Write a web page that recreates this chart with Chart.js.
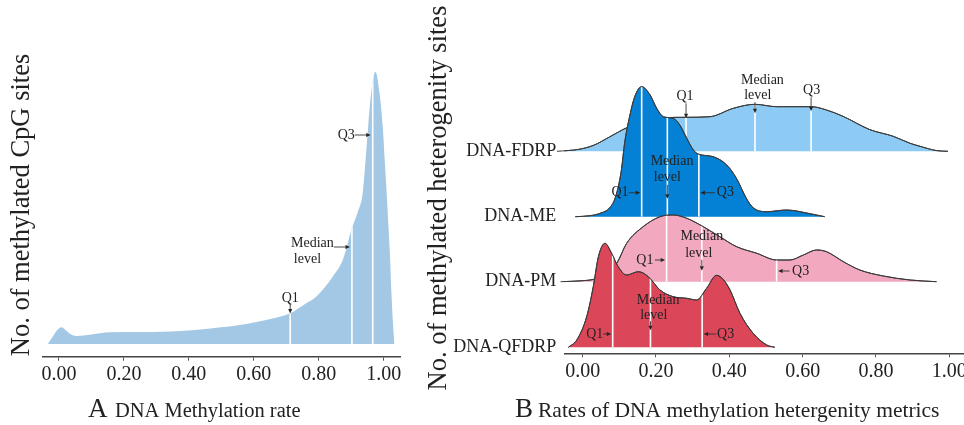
<!DOCTYPE html>
<html>
<head>
<meta charset="utf-8">
<script src="https://cdn.jsdelivr.net/npm/chart.js@4.4.0/dist/chart.umd.min.js"></script>
<style>
  html, body { margin: 0; padding: 0; background: #fff; overflow: hidden; }
  #wrapA { position: absolute; left: 0; top: 0; width: 420px; height: 425px; }
  #wrapB { position: absolute; left: 420px; top: 0; width: 560px; height: 425px; }
</style>
</head>
<body>
<div id="wrapA"><canvas id="chartA"></canvas></div>
<div id="wrapB"><canvas id="chartB"></canvas></div>
<script>
// ---- panel A: DNA methylation rate (density, arbitrary units)
const rateX = [-0.034, -0.022, -0.01, 0.0, 0.008, 0.02, 0.035, 0.054, 0.1, 0.156, 0.25, 0.32, 0.4, 0.473, 0.577, 0.648, 0.712, 0.761, 0.792, 0.843, 0.875, 0.902, 0.92, 0.935, 0.944, 0.952, 0.961, 0.9745, 0.987, 0.997, 1.003, 1.009, 1.0145, 1.0197, 1.0237, 1.029, 1.033]
const rateDensity = [0, 6, 12, 15.5, 16.7, 14, 10, 8, 9.5, 11.7, 12, 12.3, 13.5, 15.7, 20, 24.7, 30.7, 40.7, 47.3, 67.3, 85, 115.7, 132, 150.7, 184, 217.3, 250.7, 272.3, 250.7, 217.3, 184, 150.7, 117.3, 84, 50.7, 17.3, 0]
const rateQuartiles = [0.712, 0.902, 0.966]

// ---- panel B: heterogeneity metrics (ridgelines)
const metrics = ['DNA-FDRP', 'DNA-ME', 'DNA-PM', 'DNA-QFDRP']

const fdrpX = [-0.07, -0.01, 0.03, 0.074, 0.12, 0.17, 0.22, 0.282, 0.347, 0.411, 0.47, 0.529, 0.574, 0.624, 0.665, 0.71, 0.783, 0.847, 0.893, 0.92, 0.965, 0.996]
const fdrpDensity = [0, 2, 6, 14.5, 23.5, 30, 33.5, 34, 34.6, 43, 47, 44.6, 44.6, 44.6, 41.3, 35, 21.7, 15, 8, 5, 0.7, 0]
const fdrpQuartiles = [0.282, 0.47, 0.623]

const meX = [-0.02, 0.02, 0.047, 0.074, 0.09, 0.105, 0.115, 0.128, 0.142, 0.161, 0.184, 0.202, 0.22, 0.247, 0.265, 0.284, 0.302, 0.315, 0.356, 0.393, 0.42, 0.447, 0.465, 0.502, 0.556, 0.62, 0.66]
const meDensity = [0, 1, 3.3, 9, 20, 45, 75, 100, 120, 130, 121.7, 108.4, 100, 98.4, 91.7, 78.4, 66.7, 62.7, 60, 51.7, 38, 18, 9, 5, 6.7, 3, 0]
const meQuartiles = [0.161, 0.231, 0.317]

const pmX = [-0.06, 0.0, 0.03, 0.06, 0.093, 0.12, 0.165, 0.211, 0.247, 0.284, 0.329, 0.374, 0.42, 0.475, 0.529, 0.565, 0.602, 0.638, 0.665, 0.711, 0.756, 0.82, 0.893, 0.965]
const pmDensity = [0, 1, 2.4, 7, 18.4, 38.4, 55, 65, 66.7, 63.4, 55, 45, 35, 28.4, 21.7, 21.7, 26.7, 31.7, 30, 20, 11.7, 5.7, 1.7, 0]
const pmQuartiles = [0.229, 0.325, 0.529]

const qfdrpX = [-0.039, -0.016, 0.011, 0.029, 0.043, 0.061, 0.079, 0.097, 0.12, 0.152, 0.179, 0.211, 0.247, 0.284, 0.311, 0.338, 0.365, 0.383, 0.402, 0.429, 0.465, 0.502, 0.524]
const qfdrpDensity = [0, 7.3, 30.6, 60.6, 90.6, 104, 94, 80.6, 72.3, 75.6, 70.6, 57.3, 50.6, 49, 47.3, 59, 72, 68, 57.3, 34, 14, 2.3, 0]
const qfdrpQuartiles = [0.082, 0.185, 0.326]

const tickValues = [0, 0.2, 0.4, 0.6, 0.8, 1.0]

// ---------------------------------------------------------------
const serif = "'Liberation Serif', 'Times New Roman', serif"
const ink = '#222'

function toPoints(xs, hs, base) {
  return xs.map((x, i) => ({ x: x, y: base + hs[i] }))
}

function arrow(ctx, x1, y1, x2, y2) {
  const a = Math.atan2(y2 - y1, x2 - x1), L = 4.5, W = 2
  const bx = x2 - L * Math.cos(a), by = y2 - L * Math.sin(a)
  ctx.beginPath(); ctx.moveTo(x1, y1); ctx.lineTo(bx, by); ctx.stroke()
  ctx.beginPath(); ctx.moveTo(x2, y2)
  ctx.lineTo(bx + W * Math.sin(a), by - W * Math.cos(a))
  ctx.lineTo(bx - W * Math.sin(a), by + W * Math.cos(a))
  ctx.closePath(); ctx.fill()
}

// white quartile lines, clipped to the area under the curve
function quartileLines(chart, meta, base, quarts, outline) {
  const ctx = chart.ctx, xs = chart.scales.x, ys = chart.scales.y
  const line = meta.dataset, pts = meta.data
  const yb = ys.getPixelForValue(base)
  ctx.save()
  ctx.beginPath()
  line.path(ctx)
  ctx.lineTo(pts[pts.length - 1].x, yb)
  ctx.lineTo(pts[0].x, yb)
  ctx.closePath()
  ctx.clip()
  ctx.strokeStyle = '#fff'
  ctx.lineWidth = 1.6
  quarts.forEach(q => {
    const px = xs.getPixelForValue(q)
    ctx.beginPath(); ctx.moveTo(px, yb); ctx.lineTo(px, chart.chartArea.top); ctx.stroke()
  })
  ctx.restore()
  if (outline) {
    ctx.save()
    ctx.strokeStyle = outline; ctx.lineWidth = 1
    ctx.beginPath(); line.path(ctx); ctx.stroke()
    ctx.restore()
  }
}

// notes: text lines and an arrow, as offsets from (quartile px, baseline px)
function drawNotes(chart, base, quarts, notes) {
  const ctx = chart.ctx, xs = chart.scales.x, ys = chart.scales.y
  const yb = ys.getPixelForValue(base)
  ctx.save()
  ctx.fillStyle = ink; ctx.strokeStyle = '#333'; ctx.lineWidth = 0.9
  ctx.font = '14px ' + serif
  ctx.textAlign = 'center'; ctx.textBaseline = 'middle'
  notes.forEach(n => {
    const xq = xs.getPixelForValue(quarts[n.q])
    n.text.forEach(t => ctx.fillText(t[0], xq + t[1], yb + t[2]))
    const a = n.arrow
    arrow(ctx, xq + a[0], yb + a[1], xq + a[2], yb + a[3])
  })
  ctx.restore()
}

function xAxis(min, max, axisH) {
  return {
    type: 'linear', min: min, max: max,
    afterBuildTicks: s => { s.ticks = tickValues.map(v => ({ value: v })) },
    afterFit: s => { s.height = axisH },
    ticks: { callback: v => v.toFixed(2), font: { family: serif, size: 20 }, color: ink, padding: 2, autoSkip: false, maxRotation: 0 },
    grid: { display: true, drawOnChartArea: false, drawTicks: true, tickLength: 4, color: '#555', lineWidth: 1 },
    border: { display: true, color: '#444', width: 1.5 }
  }
}

function titles(ctx, yTitle, yx, yy, letter, xText, lx, tx, by, size) {
  ctx.save()
  ctx.fillStyle = ink
  ctx.textBaseline = 'alphabetic'
  ctx.translate(yx, yy); ctx.rotate(-Math.PI / 2)
  ctx.textAlign = 'center'
  ctx.font = '26.5px ' + serif
  ctx.fillText(yTitle, 0, 0)
  ctx.restore()
  ctx.save()
  ctx.fillStyle = ink
  ctx.textAlign = 'left'; ctx.textBaseline = 'alphabetic'
  ctx.font = '27px ' + serif
  ctx.fillText(letter, lx, by)
  ctx.font = size + 'px ' + serif
  ctx.fillText(xText, tx, by)
  ctx.restore()
}

// ---------------- chart A
const panelA = {
  id: 'panelA',
  afterDatasetDraw(chart, args) {
    quartileLines(chart, args.meta, 0, rateQuartiles, null)
  },
  afterDraw(chart) {
    drawNotes(chart, 0, rateQuartiles, [
      { q: 0, text: [['Q1', 0, -46]], arrow: [0, -40, 0, -30.5] },
      { q: 1, text: [['Median', -39.5, -100.7], ['level', -44.5, -84.7]], arrow: [-18, -97, -2, -97] },
      { q: 2, text: [['Q3', -26.5, -209]], arrow: [-18, -209, -2, -209] }
    ])
    titles(chart.ctx, 'No. of methylated CpG sites', 29, 205, 'A', 'DNA Methylation rate', 88, 115, 416.7, 20.5)
  }
}

new Chart(document.getElementById('chartA'), {
  type: 'line',
  data: {
    datasets: [{
      data: toPoints(rateX, rateDensity, 0),
      backgroundColor: '#a2c8e6',
      borderWidth: 0,
      fill: { value: 0 },
      pointRadius: 0,
      cubicInterpolationMode: 'monotone'
    }]
  },
  options: {
    responsive: true, maintainAspectRatio: false, animation: false,
    layout: { padding: { left: 42.7, right: 20, top: 40, bottom: 0 } },
    plugins: { legend: { display: false }, tooltip: { enabled: false } },
    scales: {
      x: xAxis(-0.05, 1.05, 68.3),
      y: { display: false, min: -12.7, max: 304 }
    }
  },
  plugins: [panelA]
})

// ---------------- chart B
const ridgeBase = [196, 130.6, 65.6, 0]   // vertical offset of each ridge, same order as metrics
const ridgeX = [fdrpX, meX, pmX, qfdrpX]
const ridgeDensity = [fdrpDensity, meDensity, pmDensity, qfdrpDensity]
const ridgeQuart = [fdrpQuartiles, meQuartiles, pmQuartiles, qfdrpQuartiles]
const ridgeColor = ['#8dcbf4', '#0480d4', '#f2a8bf', '#dc4659']

// draw order: lowest ridge on top, so list it first
const order = [3, 2, 1, 0]
const datasetsB = order.map(i => ({
  label: metrics[i],
  data: toPoints(ridgeX[i], ridgeDensity[i], ridgeBase[i]),
  backgroundColor: ridgeColor[i],
  borderColor: '#3a3a3a',
  borderWidth: 1,
  fill: { value: ridgeBase[i] },
  pointRadius: 0,
  cubicInterpolationMode: 'monotone',
  ridge: i
}))

const notesB = [
  [ // FDRP
    { q: 0, text: [['Q1', -1, -54.6]], arrow: [0, -48, 0, -33] },
    { q: 1, text: [['Median', 7.5, -71.3], ['level', 2.8, -56.3]], arrow: [0, -49, 0, -38] },
    { q: 2, text: [['Q3', 0.5, -61.3]], arrow: [0, -54, 0, -40] }
  ],
  [ // ME
    { q: 0, text: [['Q1', -21.7, -24]], arrow: [-13, -24, -1.5, -24] },
    { q: 1, text: [['Median', 4.7, -55], ['level', 0, -39]], arrow: [0, -32, 0, -18] },
    { q: 2, text: [['Q3', 26.5, -24]], arrow: [16, -24, 1.5, -24] }
  ],
  [ // PM
    { q: 0, text: [['Q1', -21.7, -21.7]], arrow: [-11.7, -21.7, -1.5, -21.7] },
    { q: 1, text: [['Median', 0, -45], ['level', -3, -28.4]], arrow: [0, -22, 0, -11] },
    { q: 2, text: [['Q3', 24, -10.7]], arrow: [13, -10.7, 1.5, -10.7] }
  ],
  [ // QFDRP
    { q: 0, text: [['Q1', -18, -13.3]], arrow: [-9.5, -13.3, -1.5, -13.3] },
    { q: 1, text: [['Median', 7.6, -47.3], ['level', 3.3, -32.3]], arrow: [0, -26, 0, -17] },
    { q: 2, text: [['Q3', 23.4, -13.3]], arrow: [14, -13.3, 1.5, -13.3] }
  ]
]

const panelB = {
  id: 'panelB',
  afterDatasetDraw(chart, args) {
    const i = chart.data.datasets[args.index].ridge
    quartileLines(chart, args.meta, ridgeBase[i], ridgeQuart[i], '#3a3a3a')
  },
  afterDraw(chart) {
    for (let i = 0; i < metrics.length; i++) drawNotes(chart, ridgeBase[i], ridgeQuart[i], notesB[i])
    titles(chart.ctx, 'No. of methylated heterogenity sites', 26, 198, 'B', 'Rates of DNA methylation hetergenity metrics', 95, 118, 416.7, 21.5)
  }
}

new Chart(document.getElementById('chartB'), {
  type: 'line',
  data: { datasets: datasetsB },
  options: {
    responsive: true, maintainAspectRatio: false, animation: false,
    layout: { padding: { left: 0, right: 16, top: 20, bottom: 0 } },
    plugins: { legend: { display: false }, tooltip: { enabled: false } },
    scales: {
      x: xAxis(-0.05, 1.04, 71.7),
      y: {
        min: -6, max: 327.3,
        afterBuildTicks: s => { s.ticks = ridgeBase.map(v => ({ value: v })) },
        afterFit: s => { s.width = 144.3 },
        ticks: { callback: (v, i) => metrics[i], font: { family: serif, size: 18 }, color: ink, padding: 8, autoSkip: false },
        grid: { display: false, drawTicks: false },
        border: { display: false }
      }
    }
  },
  plugins: [panelB]
})
</script>
</body>
</html>
